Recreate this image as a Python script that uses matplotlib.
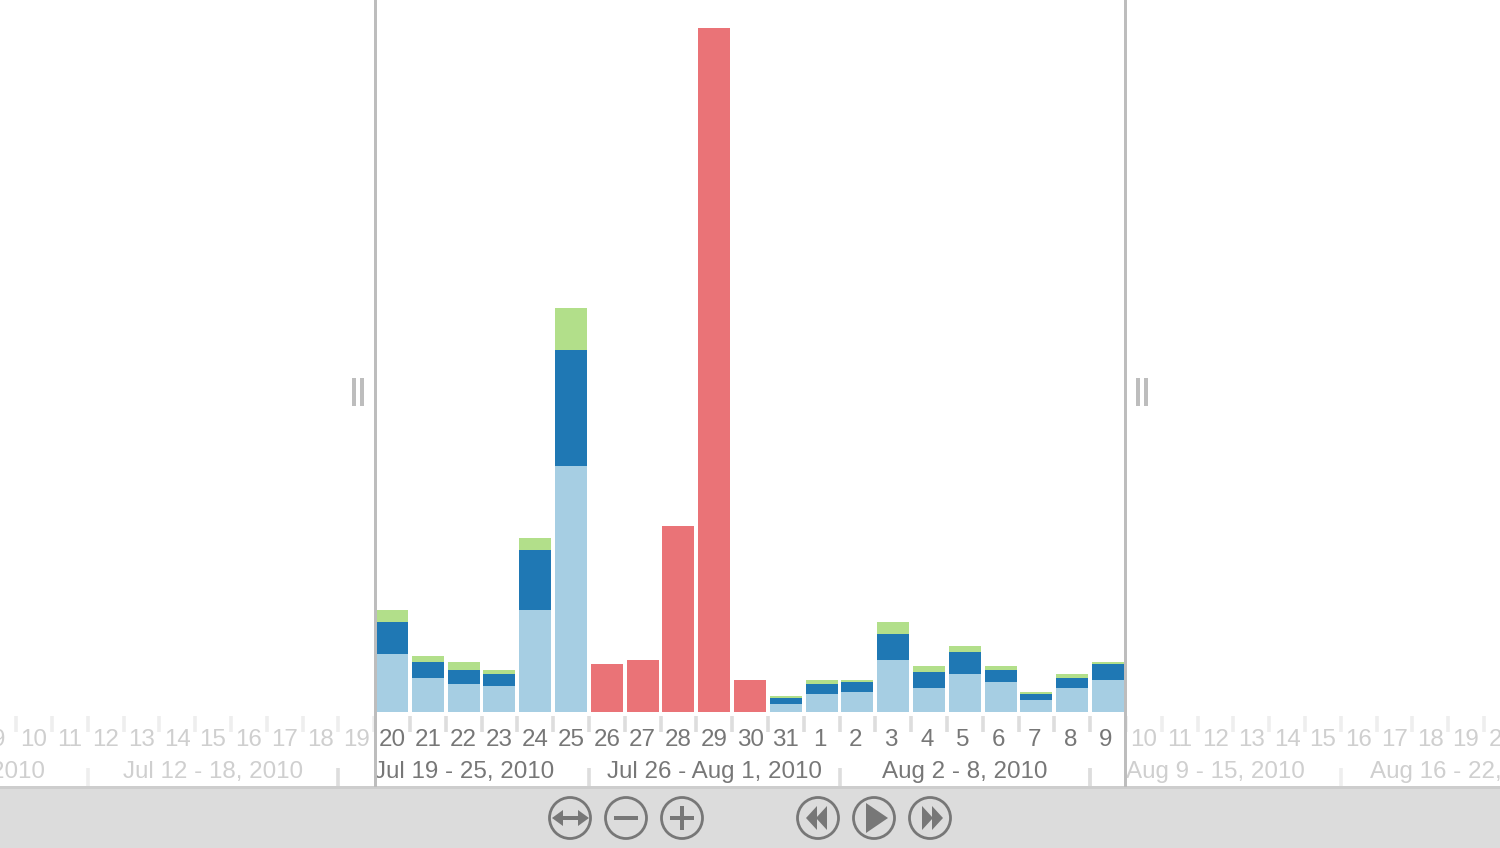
import matplotlib
matplotlib.use('Agg')
import matplotlib.pyplot as plt
from matplotlib.patches import Circle, Polygon, Rectangle

plt.rcParams['font.family'] = ['Liberation Sans', 'DejaVu Sans']

# dias da janela ativa (Jul 20 - Aug 9), x = indice
dias = [20, 21, 22, 23, 24, 25, 26, 27, 28, 29, 30, 31, 1, 2, 3, 4, 5, 6, 7, 8, 9]
claro = [58, 34, 28, 26, 102, 246, 0, 0, 0, 0, 0, 8, 18, 20, 52, 24, 38, 30, 12, 24, 32]
escuro = [32, 16, 14, 12, 60, 116, 0, 0, 0, 0, 0, 6, 10, 10, 26, 16, 22, 12, 6, 10, 16]
verde = [12, 6, 8, 4, 12, 42, 0, 0, 0, 0, 0, 2, 4, 2, 12, 6, 6, 4, 2, 4, 2]
vermelho = [0, 0, 0, 0, 0, 0, 48, 52, 186, 684, 32, 0, 0, 0, 0, 0, 0, 0, 0, 0, 0]

dias_antes = [9, 10, 11, 12, 13, 14, 15, 16, 17, 18, 19]
dias_depois = [10, 11, 12, 13, 14, 15, 16, 17, 18, 19, 20]

semanas = ['Jul 5 - 11, 2010', 'Jul 12 - 18, 2010', 'Jul 19 - 25, 2010', 'Jul 26 - Aug 1, 2010',
           'Aug 2 - 8, 2010', 'Aug 9 - 15, 2010', 'Aug 16 - 22, 2010']
semanas_inicio = [-15.5, -8.5, -1.5, 5.5, 12.5, 19.5, 26.5]
semanas_ativas = [False, False, True, True, True, False, False]

COR_TEXTO = '#777777'
COR_FRACO = '#cfcfcf'
COR_TICK = '#dddddd'
COR_TICK_FRACO = '#eeeeee'
COR_BORDA = '#bdbdbd'
PASSO = 35.8
FONTE = 17.4

fig = plt.figure(figsize=(15, 8.48), dpi=100, facecolor='white')

# eixo principal: x em dias, y com a base das barras em zero
ax = fig.add_axes([0, 0, 1, 1])
ax.set_xlim(-392 / PASSO, (1500 - 392) / PASSO)
ax.set_ylim(-136, 712)
ax.axis('off')

x = list(range(len(dias)))
largura = 32 / PASSO
base2 = claro
base3 = [a + b for a, b in zip(claro, escuro)]
ax.bar(x, claro, largura, color='#a6cee3')
ax.bar(x, escuro, largura, bottom=base2, color='#1f78b4')
ax.bar(x, verde, largura, bottom=base3, color='#b2df8a')
ax.bar(x, vermelho, largura, color='#ea7377')

# rotulos dos dias (um digito fica um pouco a esquerda no original)
for i, d in enumerate(dias):
    desl = -2 / PASSO if d < 10 else 0
    ax.text(i + desl, -28, str(d), color=COR_TEXTO, fontsize=FONTE, ha='center', va='center')
for i, d in enumerate(dias_antes):
    ax.text(i - 11, -28, str(d), color=COR_FRACO, fontsize=FONTE, ha='center', va='center')
for i, d in enumerate(dias_depois):
    ax.text(i + 21, -28, str(d), color=COR_FRACO, fontsize=FONTE, ha='center', va='center')

# marcas entre os dias
for i in range(-11, 32):
    pos = i - 0.5
    cor = COR_TICK if 0 < i < 21 else COR_TICK_FRACO
    ax.plot([pos, pos], [-4, -20], color=cor, lw=2.6, solid_capstyle='butt')

# semanas
for nome, ini, ativa in zip(semanas, semanas_inicio, semanas_ativas):
    cor = COR_TEXTO if ativa else COR_FRACO
    ax.text(ini + 3.5, -60, nome, color=cor, fontsize=FONTE, ha='center', va='center')
    ctick = COR_TICK if ativa else COR_TICK_FRACO
    ax.plot([ini, ini], [-56, -74], color=ctick, lw=2.6, solid_capstyle='butt')
ax.plot([19.5, 19.5], [-56, -74], color=COR_TICK, lw=2.6, solid_capstyle='butt')

# painel de controles em pixels
ui = fig.add_axes([0, 0, 1, 1])
ui.set_xlim(0, 1500)
ui.set_ylim(848, 0)
ui.axis('off')
ui.patch.set_alpha(0)

ui.add_patch(Rectangle((0, 786), 1500, 62, color='#dcdcdc', lw=0))
ui.add_patch(Rectangle((0, 786), 1500, 2.5, color='#cdcdcd', lw=0))
for xb in [375, 1125]:
    ui.add_patch(Rectangle((xb - 1.5, 0), 3, 787, color=COR_BORDA, lw=0))
for xb in [352, 360, 1136, 1144]:
    ui.add_patch(Rectangle((xb, 378), 4, 28, color=COR_BORDA, lw=0))

COR_BOTAO = '#777777'
yb = 818
for xb in [570, 626, 682, 818, 874, 930]:
    ui.add_patch(Circle((xb, yb), 20.5, fill=False, ec=COR_BOTAO, lw=2.0))

# ajustar
ui.add_patch(Rectangle((558, yb - 2), 24, 4, color=COR_BOTAO, lw=0))
ui.add_patch(Polygon([(552, yb), (563, yb - 8), (563, yb + 8)], color=COR_BOTAO, lw=0))
ui.add_patch(Polygon([(589, yb), (578, yb - 8), (578, yb + 8)], color=COR_BOTAO, lw=0))
# menos e mais
ui.add_patch(Rectangle((614, yb - 2), 24, 4, color=COR_BOTAO, lw=0))
ui.add_patch(Rectangle((670, yb - 2), 24, 4, color=COR_BOTAO, lw=0))
ui.add_patch(Rectangle((680, yb - 12), 4, 24, color=COR_BOTAO, lw=0))
# voltar, tocar, avancar
ui.add_patch(Polygon([(806, yb), (817, yb - 12), (817, yb + 12)], color=COR_BOTAO, lw=0))
ui.add_patch(Polygon([(816, yb), (827, yb - 12), (827, yb + 12)], color=COR_BOTAO, lw=0))
ui.add_patch(Polygon([(866, yb - 15), (888, yb), (866, yb + 15)], color=COR_BOTAO, lw=0))
ui.add_patch(Polygon([(922, yb - 12), (933, yb), (922, yb + 12)], color=COR_BOTAO, lw=0))
ui.add_patch(Polygon([(932, yb - 12), (943, yb), (932, yb + 12)], color=COR_BOTAO, lw=0))

fig.savefig('out.png', dpi=100)
